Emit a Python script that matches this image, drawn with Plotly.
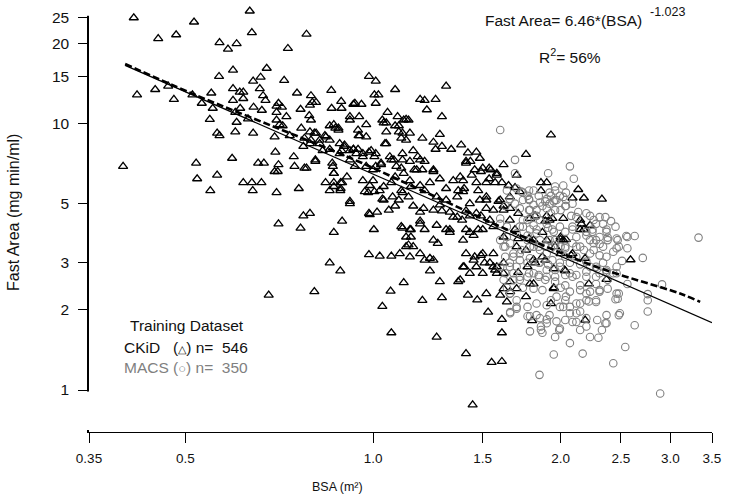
import math
import plotly.graph_objects as go

# ---------------- data ----------------
# CKiD training points: (BSA m², Fast Area mg·min/ml)
ckid_points = [
    (0.413,24.9),(0.516,24.0),(0.634,26.4),(0.452,20.8),(0.483,21.5),(0.639,21.9),(0.782,21.6),(0.567,20.1),
    (0.585,19.0),(0.604,19.9),(0.730,19.1),(0.596,15.85),(0.566,15.0),(0.675,16.1),(0.660,14.9),(0.642,14.4),
    (0.720,14.5),(0.985,15.0),(1.01,14.4),(1.085,13.4),(0.418,12.8),(0.447,13.4),(0.469,13.8),(0.479,12.3),
    (0.513,12.8),(0.531,11.9),(0.550,13.0),(0.553,11.4),(0.547,10.35),(0.562,9.2),(0.567,9.0),(0.601,9.3),
    (0.642,9.2),(0.596,13.5),(0.611,13.1),(0.619,13.1),(0.596,12.2),(0.619,12.4),(0.601,11.0),(0.612,11.4),
    (0.604,10.1),(0.630,10.4),(0.643,11.5),(0.663,11.2),(0.658,13.5),(0.666,12.7),(0.672,12.2),(0.695,8.9),
    (0.697,7.8),(0.700,11.6),(0.714,11.5),(0.726,10.6),(0.735,9.0),(0.716,9.8),(0.755,13.0),(0.765,11.3),
    (0.795,12.7),(0.799,12.0),(0.790,10.7),(0.767,9.6),(0.805,9.2),(0.857,13.3),(0.858,11.4),(0.889,12.1),
    (0.890,11.4),(0.930,11.8),(0.958,11.8),(0.918,10.6),(0.950,10.6),(0.975,9.9),(0.852,9.8),(0.880,9.6),
    (0.837,9.0),(0.948,9.0),(1.005,12.8),(1.02,12.8),(1.01,11.9),(1.035,10.3),(1.055,11.0),(1.095,10.6),
    (1.085,9.8),(1.12,10.3),(1.115,9.2),(0.397,6.9),(0.520,7.1),(0.522,6.2),(0.562,6.4),(0.548,5.6),
    (0.594,7.4),(0.654,7.1),(0.668,7.1),(0.695,6.6),(0.705,7.0),(0.703,6.6),(0.619,6.0),(0.639,6.0),
    (0.662,6.0),(0.641,5.6),(0.700,5.5),(0.746,7.5),(0.748,6.9),(0.782,6.8),(0.808,7.2),(0.760,5.7),
    (0.792,8.4),(0.773,8.2),(0.821,8.4),(0.830,7.9),(0.862,6.9),(0.865,6.5),(0.839,6.0),(0.865,6.0),
    (0.852,5.6),(0.886,5.6),(0.892,6.0),(0.908,6.3),(0.918,5.0),(0.898,8.2),(0.930,8.0),(0.940,7.7),
    (0.963,7.5),(0.975,6.9),(0.985,7.8),(1.01,6.9),(1.0,6.1),(1.005,7.5),(1.03,7.0),(1.045,8.4),
    (1.064,7.5),(1.08,7.3),(1.09,6.9),(1.115,7.7),(1.12,6.5),(0.982,5.5),(1.025,5.6),(1.035,5.2),
    (1.075,5.3),(1.085,4.9),(1.115,5.5),(0.985,4.6),(1.015,4.65),(1.003,4.0),(0.892,4.3),(0.865,3.9),
    (0.773,4.5),(0.792,4.6),(0.705,4.2),(0.765,4.05),(1.115,4.05),(1.13,3.45),
    (0.985,3.22),(1.025,3.18),(1.07,3.18),(1.104,3.25),(0.852,3.0),(0.886,2.8),(0.68,2.27),(0.805,2.34),
    (1.067,2.35),(1.035,2.06),(1.07,1.64),
    (1.22,11.25),(1.29,10.6),(1.13,10.35),(1.146,9.2),(1.20,8.8),(1.28,9.1),(1.25,8.5),(1.26,8.0),
    (1.29,8.2),(1.335,8.0),(1.385,8.3),(1.42,7.75),(1.465,7.8),(1.484,7.4),(1.433,7.2),(1.41,7.1),
    (1.456,6.7),(1.50,6.8),(1.545,6.7),(1.62,7.0),(1.76,7.65),(1.93,9.05),(1.70,6.4),(1.86,6.0),
    (1.90,6.0),(2.135,5.65),(2.18,5.25),(2.09,5.25),(2.33,5.2),(1.536,6.2),(1.58,6.4),(1.61,6.0),
    (1.65,5.85),(1.69,5.75),(1.72,5.55),(1.658,5.3),(1.60,5.16),(1.38,6.3),(1.345,6.1),(1.31,5.7),
    (1.37,5.6),(1.40,5.7),(1.475,5.6),(1.52,5.16),(1.25,6.6),(1.19,7.3),(1.175,6.7),(1.146,6.1),
    (1.21,5.6),(1.265,5.3),(1.16,4.9),(1.205,4.8),(1.29,4.7),(1.345,4.45),(1.41,4.7),(1.465,4.6),
    (1.52,4.8),(1.54,4.34),(1.475,4.0),(1.43,3.9),(1.395,3.65),(1.328,4.0),(1.265,4.15),(1.19,4.2),
    (1.146,4.0),(1.13,3.75),(1.16,3.45),(1.19,3.25),(1.25,3.65),(1.27,3.55),(1.234,3.12),(1.25,3.07),
    (1.146,3.16),(1.234,2.8),(1.12,2.53),(1.20,2.17),(1.265,1.58),(1.28,2.55),(1.29,2.22),(1.37,2.55),
    (1.42,2.27),(1.41,1.37),(1.445,0.88),(1.47,2.18),(1.53,1.96),(1.61,1.84),(1.61,1.64),(1.55,1.27),
    (1.61,1.28),(1.52,2.3),(1.60,2.27),(1.62,2.4),(1.66,2.34),(1.70,2.4),(1.76,2.24),(1.64,2.14),
    (1.66,2.55),(1.786,2.5),(1.81,2.5),(1.57,2.82),(1.62,2.74),(1.71,2.76),(1.51,3.0),(1.56,2.9),
    (1.45,3.07),(1.49,3.2),(1.41,3.25),(1.395,2.9),(1.38,2.59),(1.93,2.11),(2.19,1.83),(1.80,1.82),
    (2.22,2.5),(1.95,2.4),(1.81,3.08),(1.87,3.16),(2.035,2.8),(2.37,2.6),(2.59,3.08),(1.90,3.65),
    (1.96,3.45),(2.02,3.65),(2.09,3.25),(2.19,3.12),(1.90,4.5),(1.94,4.4),(2.02,4.4),(1.82,4.5),
    (1.87,3.9),(2.00,3.75),(2.16,4.2),(2.23,4.15),(2.18,4.0),(2.0,3.25),(1.69,4.0),(1.71,3.7),
    (1.70,3.45),(1.78,3.7),(1.76,3.35),(1.82,3.0),(1.786,4.4),(1.66,4.8),(1.62,4.9),(1.71,4.6),
    (1.658,4.34),
    (1.86,5.6),(2.15,4.34),(2.15,4.0),(2.0,3.67),(2.04,3.67),(1.89,4.3),(1.92,4.34),(1.81,3.65),
    (1.89,3.07),(1.95,2.85),(2.03,2.82),(2.08,3.2),(1.95,2.42),(1.77,2.9),
    (0.918,10.3),(1.04,10.05),(1.10,9.8),(0.88,9.44),(0.946,9.44),(0.975,8.9),(0.952,9.0),(1.05,8.4),
    (0.865,9.9),(0.852,8.66),(0.90,8.3),(0.93,8.0),(0.884,7.7),(0.86,7.1),(0.865,6.5),(0.887,6.0),
    (0.865,5.8),(0.918,7.3),(0.935,6.9),(0.963,7.7),(0.993,7.9),(1.01,7.7),(1.03,7.1),(1.0,6.7),
    (0.963,6.1),(0.988,5.85),(0.97,5.55),(1.005,5.55),(1.04,5.8),(1.07,6.0),(1.085,6.3),(1.07,7.3),
    (1.10,5.16),(1.04,5.16),(0.918,5.1),(1.06,4.73),
    (1.11,5.6),(1.14,5.3),(1.11,4.1),(1.15,4.0),(1.19,4.3),(1.21,4.0),(1.31,4.0),(1.328,3.9),
    (1.15,3.75),(1.14,3.5),(1.19,4.65),(1.25,4.73),(1.28,4.95),(1.31,5.16),(1.365,5.3),(1.395,5.55),
    (1.43,5.0),(1.484,5.16),(1.52,5.3),(1.59,5.1),(1.62,4.73),(1.56,4.73),(1.49,4.5),(1.43,4.5),
    (1.39,4.34),(1.365,4.45),(1.328,4.65),(1.41,4.0),(1.45,3.8),(1.50,4.0),(1.56,4.1),(1.62,3.75),
    (1.456,3.16),(1.50,3.25),(1.56,3.25),(1.54,3.0),(1.465,2.9),(1.40,2.9),(1.58,2.9),(1.62,3.0),
    (1.43,2.74),(1.50,2.74),(1.58,2.74),(1.21,3.07),
    (1.11,8.8),(1.14,10.3),(1.18,7.5),(1.21,7.2),(1.165,6.7),(1.20,6.7),(1.25,6.7),(1.28,6.2),
    (1.234,6.0),(1.19,5.85),(1.15,5.8),(1.146,7.2),(1.11,6.8),(1.465,6.0),(1.52,6.0),(1.57,6.0),
    (1.58,6.5),(1.49,6.6),(1.44,6.4),(1.395,6.1),(1.536,6.8),(1.41,7.2),
    (1.19,12.3),(0.70,11.0),(0.705,11.9),(0.792,11.7),(0.81,12.0),(0.795,10.3),(0.935,11.9),(0.70,10.3),
    (0.708,9.9),(0.81,9.2),(0.776,8.8),(0.795,8.66),(0.821,8.66),(0.84,8.9),(0.884,8.4),(0.852,8.0),
    (0.89,7.9),(0.918,7.9),(0.946,8.0),(1.05,9.3),(1.10,9.3),(1.13,8.66),(1.16,7.9),(1.115,7.3),
    (0.792,9.3),(0.87,9.6),(1.05,10.05),(0.887,5.7),(0.988,4.55),(0.776,6.8),(0.808,7.3),
    (1.31,13.8),(1.21,12.2),(1.26,12.3),
]

# MACS training points: (BSA m², Fast Area mg·min/ml)
macs_points = [
    (1.60,9.45),(1.69,7.3),(2.07,6.9),(1.91,6.5),(2.10,6.2),(2.04,5.5),(2.41,4.3),(3.33,3.73),
    (2.63,3.78),(2.55,3.78),(2.47,3.65),(2.37,3.92),(2.38,3.73),(2.31,3.53),(2.56,3.4),(2.46,3.4),
    (2.51,3.05),(2.71,3.13),(2.91,2.49),(2.76,2.29),(2.76,2.17),(2.76,1.97),(2.63,1.75),(2.48,1.91),
    (2.45,2.19),(2.38,2.4),(2.46,2.3),(2.54,1.45),(2.43,1.26),(2.89,0.97),(1.85,1.14),(1.95,1.36),
    (2.17,1.37),(2.07,1.50),(2.23,1.58),(2.30,1.57),(2.33,1.68),(2.36,1.78),(2.29,1.83),(2.15,1.68),
    (1.99,1.68),(1.87,1.64),(1.86,1.73),(1.83,1.91),(1.90,1.84),(1.97,1.81),(2.09,1.80),(2.20,1.86),
    (2.12,1.94),(2.07,2.05),(2.02,2.05),(2.15,2.11),(2.22,2.15),(2.28,2.17),(1.70,2.05),(1.66,1.96),
    (1.77,1.89),(1.93,2.17),(1.97,2.24),(2.04,2.24),(2.20,2.3),(2.31,2.34),(2.38,2.59),(2.28,2.5),
    (2.15,2.47),(2.035,2.47),(1.96,2.55),(1.89,2.59),(1.845,2.66),(1.77,2.66),(1.72,2.59),(1.81,2.74),
    (1.90,2.82),(1.995,2.9),(2.09,2.66),(2.20,2.78),(2.28,2.9),(2.34,3.0),(2.46,2.9),(2.43,2.74),
    (2.23,3.25),(2.31,3.2),(2.37,3.16),(2.15,3.45),(2.09,3.55),(2.26,3.55),(2.31,3.75),(2.25,4.0),
    (2.34,3.45),(2.23,3.65),(2.20,3.92),(2.09,4.1),(2.035,3.92),(1.995,4.1),(1.94,4.0),(1.96,3.65),
    (2.0,3.45),(2.035,3.16),(1.94,3.07),(1.90,3.25),(1.853,3.35),(1.81,3.45),(1.83,3.87),(1.786,4.0),
    (1.74,4.1),(1.77,3.65),(1.72,3.25),(1.68,3.16),(1.658,2.9),(1.70,2.9),(1.77,3.0),(1.853,3.0),
    (1.91,2.96),(1.786,4.73),(1.83,4.73),(1.87,4.9),(1.92,5.0),(1.96,4.73),(2.0,4.73),(2.04,4.9),
    (2.12,4.45),(2.09,5.0),(2.20,4.6),(2.26,4.34),(2.34,4.2),(1.853,4.34),(1.81,4.15),(1.90,4.2),
    (1.74,5.16),(1.72,4.8),(1.78,5.2),(1.845,5.35),(1.90,5.2),(1.96,5.16),(2.02,5.3),(1.96,5.6),
    (1.92,5.5),(1.64,5.6),(1.658,5.2),(1.69,5.0),(1.73,5.55),(1.78,5.6),(1.77,4.34),(1.70,3.87),
    (1.66,3.55),(1.64,3.75),(1.68,2.74),(1.62,2.59),(1.66,2.3),(1.96,2.82),(2.07,2.74),(2.15,2.96),
    (2.20,3.03),(2.12,3.16),(2.18,3.35),(1.93,3.4),(1.853,3.65),(1.92,3.65),(2.035,3.4),(2.37,2.82),
    (2.31,2.74),(2.43,3.3),(2.31,4.45),
    (1.74,5.5),(1.78,5.16),(1.93,5.35),(1.97,5.16),(2.56,3.75),(1.60,4.2),(1.62,3.45),(1.63,3.16),
    (1.853,5.05),(1.90,4.8),(1.95,5.1),(2.035,4.9),(1.93,4.6),(1.83,4.5),(1.786,4.4),(1.74,4.34),
    (1.72,4.1),(1.77,3.8),(1.83,4.0),(1.91,4.06),(1.95,3.92),(2.09,4.0),(2.12,3.75),(2.2,3.8),
    (2.25,3.92),(2.28,3.65),(2.26,3.35),(2.12,3.45),(2.035,3.45),(1.96,3.5),(1.89,3.45),(1.845,3.45),
    (1.786,3.45),(1.73,3.35),(1.68,3.25),(1.658,3.0),(1.72,3.07),(1.786,3.12),(1.845,3.0),(1.995,3.0),
    (2.07,3.0),(2.23,2.9),(2.29,2.85),(2.37,2.78),(2.46,2.74),(2.28,2.66),(2.20,2.66),(2.12,2.7),
    (2.035,2.7),(1.96,2.66),(1.90,2.66),(1.845,2.7),(1.78,2.74),(1.72,2.66),(1.68,2.59),(1.74,2.42),
    (1.81,2.4),(1.87,2.37),(2.0,2.42),(2.07,2.34),(2.15,2.37),(2.23,2.34),(2.31,2.37),(2.035,2.17),
    (2.12,2.11),(1.995,2.05),(1.90,2.08),(1.83,2.11),(1.77,2.05),(1.70,2.02),(1.66,1.94),(1.786,1.89),
    (1.853,1.86),(1.92,1.91),(2.07,1.94),(2.15,1.97),(2.2,2.17),(2.28,2.14),(2.37,1.78),(2.12,1.80),
    (1.86,1.68),(1.90,1.78),(1.786,1.66),(2.48,2.3),(2.47,2.2),(2.56,2.5),(2.49,1.94),(2.38,3.65),
    (2.48,3.45),(2.46,3.7),(2.45,4.1),(2.37,4.0),(2.28,4.2),(2.36,4.45),(2.23,4.5),(2.135,4.65),
    (2.08,4.5),(2.04,5.16),(1.995,5.35),(1.89,5.1),(1.81,4.95),(1.78,4.73),(1.77,5.35),(1.81,5.6),
    (1.96,5.8),(2.02,5.85),(1.70,5.7),(1.69,6.5),(1.63,4.9),(1.60,4.4),(1.64,4.1),(1.60,3.65),
    (1.63,3.45),(1.60,2.9),(1.63,2.74),(1.658,2.3),(1.70,2.17),(1.64,2.42),(1.96,1.58),(1.995,1.7),
    (2.37,1.91),(2.20,1.73),(2.035,1.83),
]

# fitted power curve (solid) and smoother (dashed)
fit_bsa = [0.40, 3.50]
fit_fa = [16.5, 1.79]
smooth_bsa = [0.40, 0.51, 0.77, 0.96, 1.16, 1.68, 2.28, 3.11, 3.35]
smooth_fa = [16.7, 13.0, 8.8, 7.1, 5.8, 3.9, 2.9, 2.3, 2.14]

x_tick_vals = [0.35, 0.5, 1.0, 1.5, 2.0, 2.5, 3.0, 3.5]
x_tick_text = ["0.35", "0.5", "1.0", "1.5", "2.0", "2.5", "3.0", "3.5"]
y_tick_vals = [1, 2, 3, 5, 10, 15, 20, 25]
y_tick_text = ["1", "2", "3", "5", "10", "15", "20", "25"]

# ---------------- layout geometry ----------------
W, H = 729, 503
ML, MR, MT, MB = 89, 17, 5, 71
PW, PH = W - ML - MR, H - MT - MB
X_RANGE = [math.log10(0.35), math.log10(3.5)]
Y_RANGE = [math.log10(0.696), math.log10(27.8)]


def pxx(x):
    return (x - ML) / PW


def pxy(y):
    return (H - MB - y) / PH


def y_paper(v):
    return (math.log10(v) - Y_RANGE[0]) / (Y_RANGE[1] - Y_RANGE[0])


FONT = "Liberation Sans, Arial, sans-serif"
TXT = "#111111"
GRAY = "#808080"

ckid_x = [p[0] for p in ckid_points]
ckid_y = [p[1] for p in ckid_points]
macs_x = [p[0] for p in macs_points]
macs_y = [p[1] for p in macs_points]

fig = go.Figure()
fig.add_trace(go.Scatter(
    x=ckid_x, y=ckid_y, mode="markers",
    marker=dict(symbol="triangle-up-open", size=8, color="#000000", line=dict(width=1.3)),
    hoverinfo="skip"))
fig.add_trace(go.Scatter(
    x=macs_x, y=macs_y, mode="markers",
    marker=dict(symbol="circle-open", size=7.5, color=GRAY, line=dict(width=1.1)),
    hoverinfo="skip"))
fig.add_trace(go.Scatter(
    x=fit_bsa, y=fit_fa, mode="lines",
    line=dict(color="#000000", width=1.2), hoverinfo="skip"))
fig.add_trace(go.Scatter(
    x=smooth_bsa, y=smooth_fa, mode="lines", line_shape="spline",
    line=dict(color="#000000", width=2.6, dash="7px,3px"), hoverinfo="skip"))

ann = []
ann.append(dict(text="Fast Area= 6.46*(BSA)", x=pxx(483), y=pxy(20), xanchor="left", yanchor="middle",
                font=dict(size=15.5, color=TXT, family=FONT)))
ann.append(dict(text="-1.023", x=pxx(648), y=pxy(12), xanchor="left", yanchor="middle",
                font=dict(size=12.5, color=TXT, family=FONT)))
ann.append(dict(text="R<sup>2</sup>= 56%", x=pxx(537), y=pxy(56), xanchor="left", yanchor="middle",
                font=dict(size=15.5, color=TXT, family=FONT)))
ann.append(dict(text="Training Dataset", x=pxx(128), y=pxy(325), xanchor="left", yanchor="middle",
                font=dict(size=15.5, color=TXT, family=FONT)))
ann.append(dict(text="CKiD\u00a0\u00a0\u00a0(<span style='font-size:11px'>\u25b3</span>) n=\u00a0\u00a0546",
                x=pxx(122), y=pxy(347), xanchor="left", yanchor="middle",
                font=dict(size=15.5, color=TXT, family=FONT)))
ann.append(dict(text="MACS (<span style='font-size:13px'>\u25cb</span>) n=\u00a0\u00a0350",
                x=pxx(122), y=pxy(367), xanchor="left", yanchor="middle",
                font=dict(size=15.5, color=GRAY, family=FONT)))
ann.append(dict(text="Fast Area (mg min/ml)", x=pxx(13), y=pxy(213), textangle=-90,
                xanchor="center", yanchor="middle", font=dict(size=16, color=TXT, family=FONT)))
ann.append(dict(text="BSA (m\u00b2)", x=pxx(337), y=pxy(487), xanchor="center", yanchor="middle",
                font=dict(size=12.5, color=TXT, family=FONT)))
for a in ann:
    a.update(xref="paper", yref="paper", showarrow=False)

# white masks trim the native y-axis line so it runs only from the 1 tick to the 25 tick (R style)
gap = 1.5 / PH
mask = dict(type="rect", xref="paper", yref="paper", x0=-4.0 / PW, x1=2.0 / PW,
            fillcolor="white", line=dict(width=0), layer="above")
shapes = [
    dict(mask, y0=2.0 / PH, y1=y_paper(y_tick_vals[0]) - gap),
    dict(mask, y0=y_paper(y_tick_vals[-1]) + gap, y1=1.0 + MT / PH),
]

fig.update_layout(
    width=W, height=H,
    margin=dict(l=ML, r=MR, t=MT, b=MB, pad=0),
    paper_bgcolor="white", plot_bgcolor="white",
    showlegend=False,
    annotations=ann,
    shapes=shapes,
    font=dict(family=FONT, color=TXT),
    xaxis=dict(type="log", range=X_RANGE,
               tickmode="array", tickvals=x_tick_vals, ticktext=x_tick_text,
               ticks="outside", ticklen=10, tickwidth=1, tickcolor="#000000",
               showline=True, linecolor="#000000", linewidth=1,
               showgrid=False, zeroline=False,
               tickfont=dict(size=13.5, color=TXT, family=FONT), ticklabelstandoff=4),
    yaxis=dict(type="log", range=Y_RANGE,
               tickmode="array", tickvals=y_tick_vals, ticktext=y_tick_text,
               ticks="outside", ticklen=9, tickwidth=1, tickcolor="#000000",
               showline=True, linecolor="#000000", linewidth=1.5,
               showgrid=False, zeroline=False,
               tickfont=dict(size=15.5, color=TXT, family=FONT), ticklabelstandoff=6),
)

fig.write_html("out.html", config={"displayModeBar": False},
               post_script="document.body.style.margin='0px';")
